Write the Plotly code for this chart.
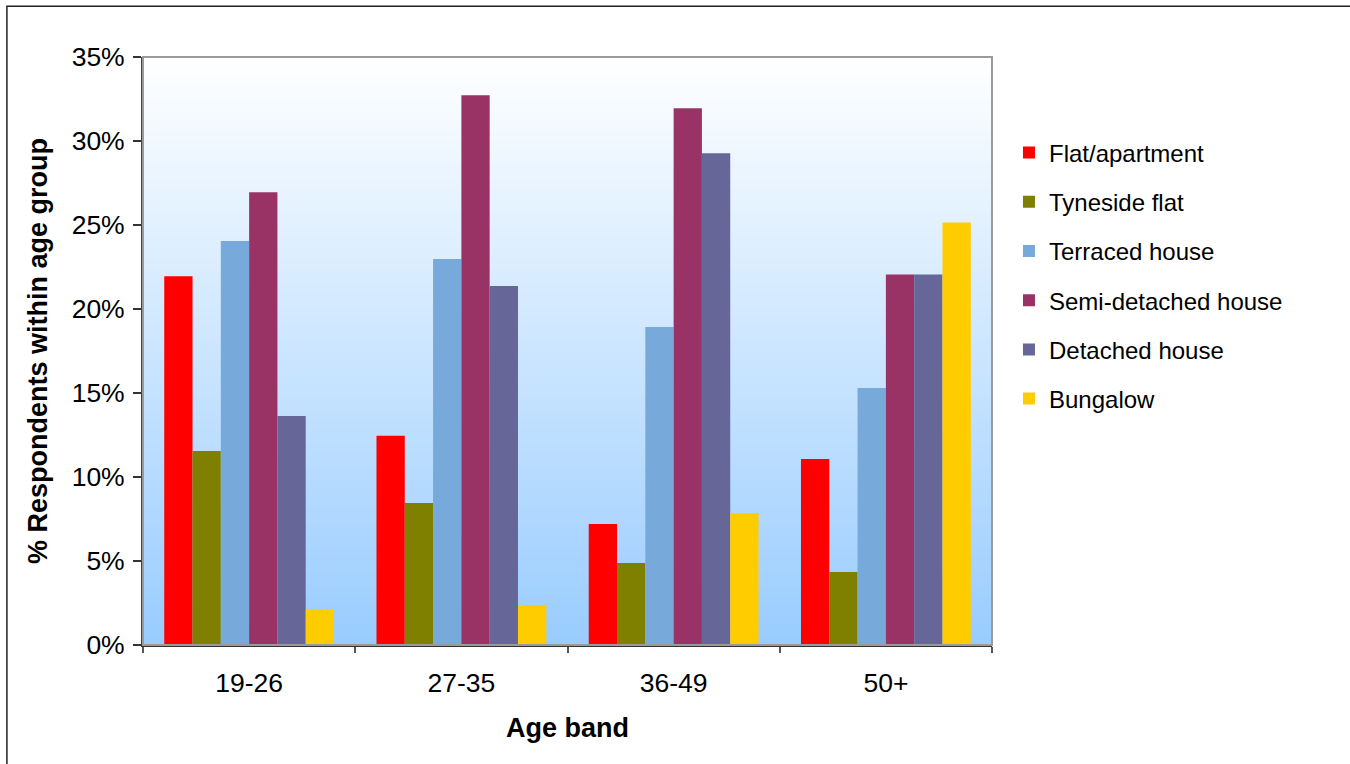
import plotly.graph_objects as go

age_bands = ["19-26", "27-35", "36-49", "50+"]
flat_apartment = [21.95, 12.45, 7.2, 11.07]
tyneside_flat = [11.55, 8.45, 4.88, 4.35]
terraced_house = [24.05, 22.98, 18.93, 15.3]
semi_detached = [26.95, 32.72, 31.95, 22.05]
detached_house = [13.63, 21.37, 29.27, 22.05]
bungalow = [2.1, 2.38, 7.84, 25.15]

series_names = ["Flat/apartment", "Tyneside flat", "Terraced house",
                "Semi-detached house", "Detached house", "Bungalow"]
series_values = [flat_apartment, tyneside_flat, terraced_house,
                 semi_detached, detached_house, bungalow]
colors = ["#FF0000", "#808000", "#77A9DB", "#993366", "#666699", "#FFCC00"]

FONT = "Liberation Sans, Arial, sans-serif"

fig = go.Figure()
for i, (name, vals, col) in enumerate(zip(series_names, series_values, colors)):
    fig.add_trace(go.Bar(
        x=age_bands, y=vals, name=name,
        marker=dict(color=col, line=dict(width=0)),
        legendgroup=f"g{i}",
    ))

# gradient background: white (top) to light blue (bottom)
shapes = []
n = 120
top = (255, 255, 255)
bot = (153, 204, 255)
for k in range(n):
    t = (k + 0.5) / n  # 0 at bottom, 1 at top
    r = round(bot[0] + (top[0] - bot[0]) * t)
    g = round(bot[1] + (top[1] - bot[1]) * t)
    b = round(bot[2] + (top[2] - bot[2]) * t)
    shapes.append(dict(type="rect", xref="x domain", yref="y domain",
                       x0=0, x1=1, y0=k / n, y1=(k + 1) / n + 0.002,
                       fillcolor=f"rgb({r},{g},{b})", line=dict(width=0),
                       layer="below"))
# plot area border (gray)
shapes.append(dict(type="rect", xref="x domain", yref="y domain",
                   x0=0, x1=1, y0=0, y1=1, line=dict(color="#9A9A9A", width=2),
                   fillcolor="rgba(0,0,0,0)", layer="above"))
# outer chart border
shapes.append(dict(type="rect", xref="paper", yref="paper",
                   x0=-0.1603, x1=1.8, y0=-0.5, y1=1.0862,
                   line=dict(color="#222222", width=1.5),
                   fillcolor="rgba(0,0,0,0)", layer="above"))

fig.update_layout(
    width=1350, height=764, autosize=False,
    margin=dict(l=143, r=358, t=57, b=119),
    paper_bgcolor="white", plot_bgcolor="rgba(0,0,0,0)",
    barmode="group", bargap=0.2, bargroupgap=0,
    font=dict(family=FONT, color="#000000"),
    shapes=shapes,
    showlegend=True,
    legend=dict(
        x=1.02, y=0.875, xanchor="left", yanchor="top",
        font=dict(size=24, family=FONT, color="#000000"),
        tracegroupgap=15, bgcolor="rgba(0,0,0,0)",
        itemclick=False,
    ),
    xaxis=dict(
        type="category", tickson="boundaries",
        ticks="outside", ticklen=6, tickcolor="#555555", tickwidth=2,
        showline=True, linecolor="#333333", linewidth=2,
        showgrid=False, tickfont=dict(size=26.5, family=FONT),
        ticklabelstandoff=13,
        title=dict(text="<b>Age band</b>", font=dict(size=27, family=FONT), standoff=21),
    ),
    yaxis=dict(
        range=[0, 35], dtick=5, ticksuffix="%",
        ticks="outside", ticklen=8, tickcolor="#333333", tickwidth=2,
        showline=True, linecolor="#444444", linewidth=2,
        showgrid=False, zeroline=False, tickfont=dict(size=26.5, family=FONT),
        ticklabelstandoff=3,
        title=dict(text="<b>% Respondents within age group</b>",
                   font=dict(size=27, family=FONT), standoff=16),
    ),
)

fig.write_html("out.html", config={"displayModeBar": False},
               post_script="document.body.style.margin='0';document.body.style.overflow='hidden';")
